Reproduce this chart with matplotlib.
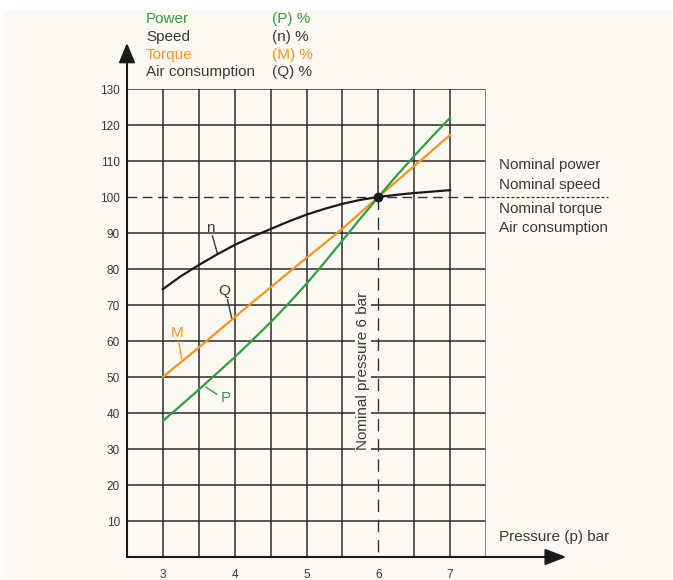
import numpy as np
import matplotlib.pyplot as plt
from matplotlib.patches import Rectangle

plt.rcParams['font.family'] = ['Liberation Sans', 'DejaVu Sans']

# 数据
pressure = [3, 3.25, 3.5, 3.75, 4, 4.25, 4.5, 4.75, 5, 5.25, 5.5, 5.75,
            6, 6.25, 6.5, 6.75, 7]
speed_n = [74.4, 78, 81.1, 84, 86.7, 89, 91.1, 93.2, 95.1, 96.7, 98.1, 99.2,
           100, 100.6, 101.1, 101.5, 101.9]
torque_m = [50, 54.1, 58.2, 62.4, 66.6, 70.8, 74.9, 79, 83.1, 87.1, 91.2, 95.6,
            100, 104.3, 108.6, 112.9, 117.2]
power_p = [37.8, 42.1, 46.5, 51, 55.5, 60.3, 65.2, 70.4, 75.9, 81.8, 87.9, 94,
           100, 105.8, 111.4, 116.8, 122]

x_ticks = [3, 4, 5, 6, 7]
y_ticks = [10, 20, 30, 40, 50, 60, 70, 80, 90, 100, 110, 120, 130]

legend_names = ['Power', 'Speed', 'Torque', 'Air consumption']
legend_units = ['(P) %', '(n) %', '(M) %', '(Q) %']
right_names = ['Nominal power', 'Nominal speed', 'Nominal torque', 'Air consumption']

GREEN = '#2ea043'
ORANGE = '#f7941d'
BLACK = '#1a1a1a'
GRID = '#2b2b2b'
TEXT = '#3a3a3a'
BG = '#fdf9f2'

fig = plt.figure(figsize=(6.73, 5.80), dpi=100)
fig.patches.append(Rectangle((4 / 673, 0), 668 / 673, 570 / 580,
                             transform=fig.transFigure, facecolor=BG,
                             edgecolor='none', zorder=-10))

ax = fig.add_axes([127 / 673, 23 / 580, 359 / 673, 468 / 580])
ax.set_facecolor('none')
ax.set_xlim(2.5, 7.5)
ax.set_ylim(0, 130)

# 网格 (x=6 下半段和 y=100 用虚线代替)
for gx in np.arange(3, 7.5, 0.5):
    y0 = 100 if gx == 6 else 0
    ax.plot([gx, gx], [y0, 130], color=GRID, lw=1.1, zorder=1)
for gy in y_ticks:
    if gy == 100:
        continue
    ax.plot([2.5, 7.5], [gy, gy], color=GRID, lw=1.1, zorder=1)
ax.plot([7.5, 7.5], [0, 130], color='#7a7a7a', lw=2, zorder=1)

for s in ax.spines.values():
    s.set_visible(False)

ax.set_xticks(x_ticks)
ax.set_yticks(y_ticks)
ax.tick_params(length=0, labelsize=8.5, labelcolor=TEXT, pad=5)
ax.tick_params(axis='x', pad=9)

# 坐标轴箭头
ax.annotate('', xy=(2.5, 142.8), xytext=(2.5, 0), annotation_clip=False,
            arrowprops=dict(arrowstyle='-|>,head_length=1.2,head_width=0.5',
                            mutation_scale=10, color=BLACK, lw=1.5,
                            shrinkA=0, shrinkB=0))
ax.annotate('', xy=(8.62, 0), xytext=(2.5, 0), annotation_clip=False,
            arrowprops=dict(arrowstyle='-|>,head_length=1.3,head_width=0.5',
                            mutation_scale=10, color=BLACK, lw=1.5,
                            shrinkA=0, shrinkB=0))

# 额定线
ax.plot([2.5, 7.5], [100, 100], color='#333333', lw=1, dashes=(7, 4), zorder=2)
ax.plot([7.5, 9.2], [100, 100], color='#333333', lw=0.9, dashes=(2.5, 1.5),
        zorder=2, clip_on=False)
ax.plot([6, 6], [100, 0], color='#333333', lw=1, dashes=(9, 5.5), zorder=2)

# 曲线
ax.plot(pressure, speed_n, color=BLACK, lw=1.6, zorder=4)
ax.plot(pressure, torque_m, color=ORANGE, lw=1.6, zorder=4)
ax.plot(pressure, power_p, color=GREEN, lw=1.6, zorder=5)
ax.plot([6], [100], 'o', color=BLACK, markersize=6, zorder=6)

# 曲线标注
ax.text(3.66, 91.5, 'n', fontsize=11, color=TEXT, ha='center', va='center')
ax.plot([3.69, 3.76], [89.2, 84.2], color=TEXT, lw=1, zorder=3)
ax.text(3.86, 74, 'Q', fontsize=11, color=TEXT, ha='center', va='center')
ax.plot([3.9, 3.96], [71.5, 66.2], color=TEXT, lw=1, zorder=3)
ax.text(3.2, 62.3, 'M', fontsize=11, color=ORANGE, ha='center', va='center')
ax.plot([3.22, 3.26], [59.8, 55.1], color=ORANGE, lw=1, zorder=3)
ax.text(3.87, 44.3, 'P', fontsize=11, color=GREEN, ha='center', va='center')
ax.plot([3.75, 3.6], [45.2, 47.2], color=GREEN, lw=1, zorder=3)

ax.text(5.79, 51.7, 'Nominal pressure 6 bar', rotation=90, fontsize=11,
        color=TEXT, ha='center', va='center', zorder=3,
        bbox=dict(facecolor=BG, edgecolor='none', pad=0.5))

# 右侧说明
for name, yy in zip(right_names, [165, 185, 209, 228]):
    fig.text(499 / 673, 1 - yy / 580, name, fontsize=11, color=TEXT, va='center')
fig.text(499 / 673, 1 - 537 / 580, 'Pressure (p) bar', fontsize=11,
         color=TEXT, va='center')

# 顶部图例
legend_colors = [GREEN, TEXT, ORANGE, TEXT]
legend_y = [19, 37, 55, 72]
for name, unit, c, yy in zip(legend_names, legend_units, legend_colors, legend_y):
    fig.text(146 / 673, 1 - yy / 580, name, fontsize=11, color=c, va='center')
    fig.text(272 / 673, 1 - yy / 580, unit, fontsize=11, color=c, va='center')

fig.savefig('out.png', dpi=100)
